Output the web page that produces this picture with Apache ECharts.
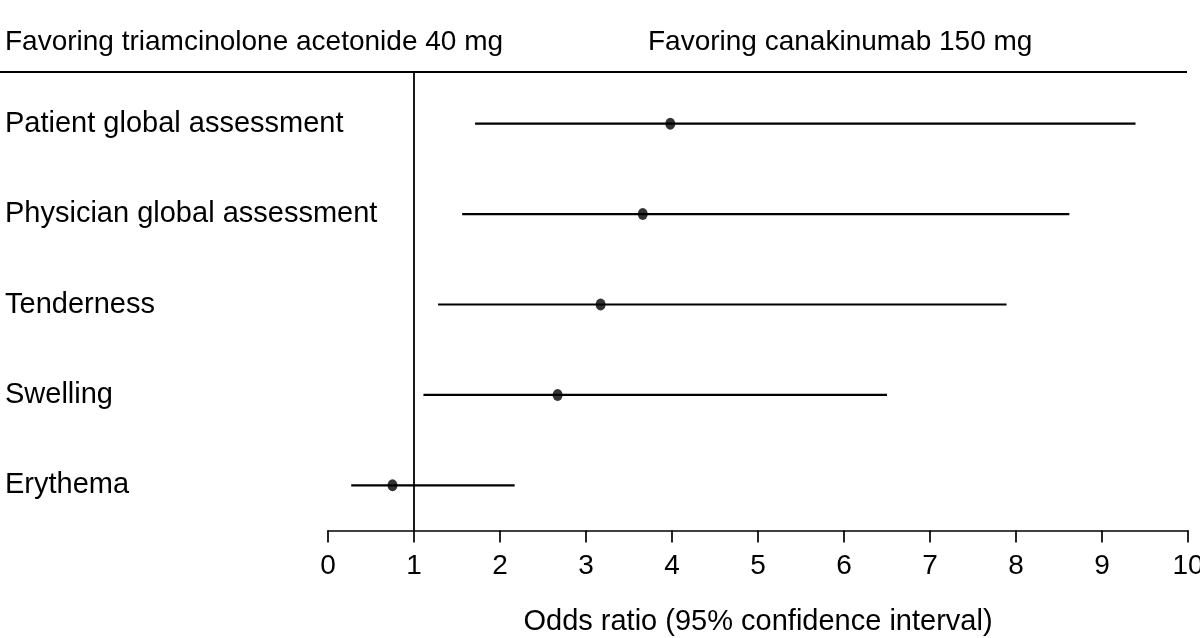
<!DOCTYPE html>
<html>
<head>
<meta charset="utf-8">
<script src="https://cdn.jsdelivr.net/npm/echarts@6/dist/echarts.min.js"></script>
<style>html,body{margin:0;padding:0;background:#fff;}#c{width:1200px;height:638px;}</style>
</head>
<body>
<div id="c"></div>
<script>
var categories = ['Patient global assessment', 'Physician global assessment', 'Tenderness', 'Swelling', 'Erythema'];
var oddsRatio = [3.98, 3.66, 3.17, 2.67, 0.75];
var ciLower = [1.71, 1.56, 1.28, 1.11, 0.27];
var ciUpper = [9.39, 8.62, 7.89, 6.50, 2.17];
var xTicks = [0, 1, 2, 3, 4, 5, 6, 7, 8, 9, 10];
var referenceValue = 1;
var leftHeader = 'Favoring triamcinolone acetonide 40 mg';
var rightHeader = 'Favoring canakinumab 150 mg';
var xTitle = 'Odds ratio (95% confidence interval)';

var FONT = 'Liberation Sans, Arial, sans-serif';
var chart = echarts.init(document.getElementById('c'), null, {renderer: 'canvas'});

var ciData = categories.map(function (c, i) { return [ciLower[i], c, ciUpper[i]]; });
var ptData = categories.map(function (c, i) { return [oddsRatio[i], c]; });

var TOP_RULE_Y = 72;

chart.setOption({
  animation: false,
  backgroundColor: '#fff',
  grid: {left: 328, right: 12, top: 78.5, bottom: 107.5, containLabel: false, outerBoundsMode: 'none'},
  xAxis: {
    type: 'value', min: xTicks[0], max: xTicks[xTicks.length - 1], interval: 1,
    name: xTitle, nameLocation: 'middle', nameGap: 77,
    nameTextStyle: {fontFamily: FONT, fontSize: 29, color: '#000'},
    axisLine: {show: true, onZero: false, lineStyle: {color: '#000', width: 1.7}},
    axisTick: {show: true, inside: false, length: 12, lineStyle: {color: '#000', width: 1.7}},
    axisLabel: {fontFamily: FONT, fontSize: 28, color: '#000', margin: 22},
    splitLine: {show: false}
  },
  yAxis: {
    type: 'category', data: categories, inverse: true,
    axisLine: {show: false}, axisTick: {show: false},
    axisLabel: {fontFamily: FONT, fontSize: 29, color: '#000', align: 'left', margin: 323,
                padding: [0, 0, 6, 0]}
  },
  graphic: [
    {type: 'line', shape: {x1: 0, y1: TOP_RULE_Y, x2: 1187, y2: TOP_RULE_Y}, style: {stroke: '#000', lineWidth: 2}},
    {type: 'text', left: 5, top: 28, style: {text: leftHeader, font: '28px ' + FONT, fill: '#000'}},
    {type: 'text', left: 648, top: 28, style: {text: rightHeader, font: '28px ' + FONT, fill: '#000'}}
  ],
  series: [
    {
      type: 'custom',
      data: [[referenceValue, categories[0]]],
      encode: {x: 0, y: 1},
      renderItem: function (params, api) {
        var p = api.coord([api.value(0), api.value(1)]);
        var cs = params.coordSys;
        return {type: 'line', shape: {x1: p[0], y1: TOP_RULE_Y, x2: p[0], y2: cs.y + cs.height},
                style: {stroke: '#000', lineWidth: 1.8}};
      },
      z: 1
    },
    {
      type: 'custom',
      data: ciData,
      dimensions: ['lo', 'cat', 'hi'],
      encode: {x: [0, 2], y: 1},
      renderItem: function (params, api) {
        var a = api.coord([api.value(0), api.value(1)]);
        var b = api.coord([api.value(2), api.value(1)]);
        return {type: 'line', shape: {x1: a[0], y1: a[1], x2: b[0], y2: b[1]},
                style: {stroke: '#000', lineWidth: 2.2}};
      },
      z: 2
    },
    {
      type: 'scatter', data: ptData, symbol: 'circle', symbolSize: [10, 12],
      itemStyle: {color: '#000'}, z: 3
    }
  ]
});
</script>
</body>
</html>
